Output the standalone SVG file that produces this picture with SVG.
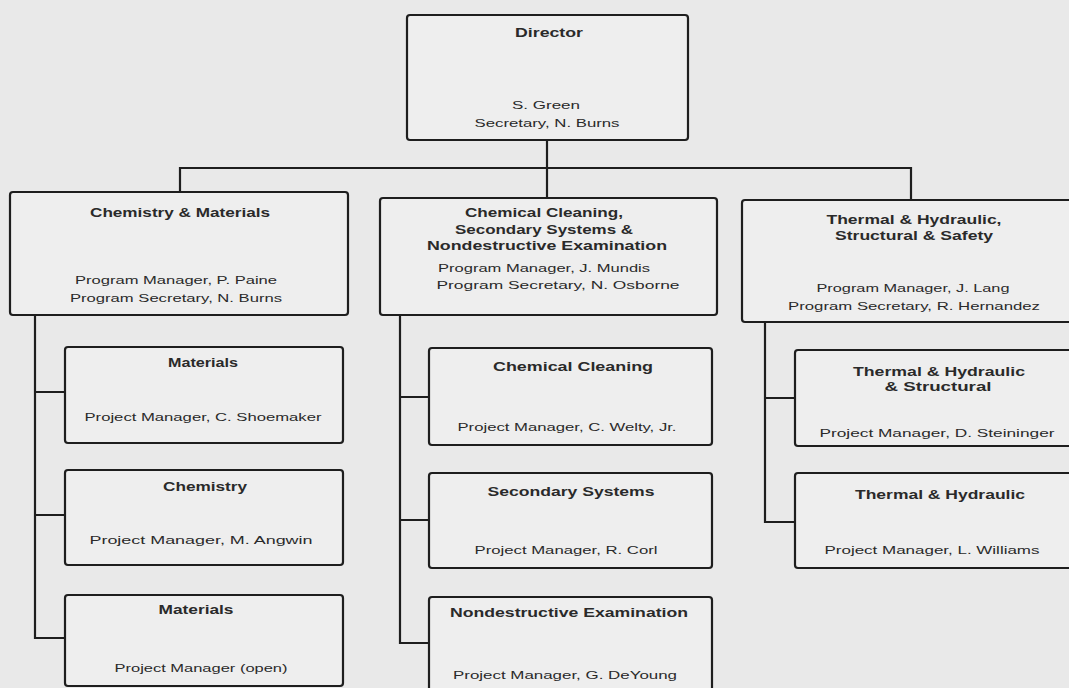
<svg xmlns="http://www.w3.org/2000/svg" width="1069" height="688" viewBox="0 0 1069 688">
<style>
.bg{fill:#e9e9e9}
.box{fill:#eeeeee;stroke:#1e1e1e;stroke-width:2.2}
.ln{fill:none;stroke:#1e1e1e;stroke-width:2.2}
text{font-family:"Liberation Sans",Arial,sans-serif;fill:#2a2a2a;text-anchor:middle}
.t{font-size:12px;font-weight:bold}
.n{font-size:11px}
</style>
<rect class="bg" x="0" y="0" width="1069" height="688"/>
<g id="connectors">
<path class="ln" d="M547,140 V198"/>
<path class="ln" d="M180,192 V168 H911 V200"/>
<path class="ln" d="M35,315 V638 H65 M35,392 H65 M35,515 H65"/>
<path class="ln" d="M400,315 V643 H429 M400,397 H429 M400,520 H429"/>
<path class="ln" d="M765,322 V522 H795 M765,398 H795"/>
</g>
<g id="director">
<rect class="box" x="407" y="15" width="281" height="125" rx="3"/>
<text class="t" x="549" y="37" textLength="68" lengthAdjust="spacingAndGlyphs">Director</text>
<text class="n" x="546" y="109" textLength="68" lengthAdjust="spacingAndGlyphs">S. Green</text>
<text class="n" x="547" y="127" textLength="145" lengthAdjust="spacingAndGlyphs">Secretary, N. Burns</text>
</g>
<g id="chem-materials">
<rect class="box" x="10" y="192" width="338" height="123" rx="3"/>
<text class="t" x="180" y="217" textLength="180" lengthAdjust="spacingAndGlyphs">Chemistry &amp; Materials</text>
<text class="n" x="176" y="284" textLength="202" lengthAdjust="spacingAndGlyphs">Program Manager, P. Paine</text>
<text class="n" x="176" y="302" textLength="212" lengthAdjust="spacingAndGlyphs">Program Secretary, N. Burns</text>
</g>
<g id="chem-cleaning-group">
<rect class="box" x="380" y="198" width="337" height="117" rx="3"/>
<text class="t" x="544" y="217" textLength="158" lengthAdjust="spacingAndGlyphs">Chemical Cleaning,</text>
<text class="t" x="544" y="234" textLength="178" lengthAdjust="spacingAndGlyphs">Secondary Systems &amp;</text>
<text class="t" x="547" y="250" textLength="240" lengthAdjust="spacingAndGlyphs">Nondestructive Examination</text>
<text class="n" x="544" y="272" textLength="212" lengthAdjust="spacingAndGlyphs">Program Manager, J. Mundis</text>
<text class="n" x="558" y="289" textLength="243" lengthAdjust="spacingAndGlyphs">Program Secretary, N. Osborne</text>
</g>
<g id="thermal-group">
<rect class="box" x="742" y="200" width="342" height="122" rx="3"/>
<text class="t" x="914" y="224" textLength="175" lengthAdjust="spacingAndGlyphs">Thermal &amp; Hydraulic,</text>
<text class="t" x="914" y="240" textLength="158" lengthAdjust="spacingAndGlyphs">Structural &amp; Safety</text>
<text class="n" x="913" y="292" textLength="193" lengthAdjust="spacingAndGlyphs">Program Manager, J. Lang</text>
<text class="n" x="914" y="310" textLength="252" lengthAdjust="spacingAndGlyphs">Program Secretary, R. Hernandez</text>
</g>
<g id="materials-1">
<rect class="box" x="65" y="347" width="278" height="96" rx="3"/>
<text class="t" x="203" y="367" textLength="70" lengthAdjust="spacingAndGlyphs">Materials</text>
<text class="n" x="203" y="421" textLength="237" lengthAdjust="spacingAndGlyphs">Project Manager, C. Shoemaker</text>
</g>
<g id="chemistry">
<rect class="box" x="65" y="470" width="278" height="95" rx="3"/>
<text class="t" x="205" y="491" textLength="84" lengthAdjust="spacingAndGlyphs">Chemistry</text>
<text class="n" x="201" y="544" textLength="223" lengthAdjust="spacingAndGlyphs">Project Manager, M. Angwin</text>
</g>
<g id="materials-2">
<rect class="box" x="65" y="595" width="278" height="91" rx="3"/>
<text class="t" x="196" y="614" textLength="75" lengthAdjust="spacingAndGlyphs">Materials</text>
<text class="n" x="201" y="672" textLength="173" lengthAdjust="spacingAndGlyphs">Project Manager (open)</text>
</g>
<g id="chemical-cleaning">
<rect class="box" x="429" y="348" width="283" height="97" rx="3"/>
<text class="t" x="573" y="371" textLength="160" lengthAdjust="spacingAndGlyphs">Chemical Cleaning</text>
<text class="n" x="567" y="431" textLength="219" lengthAdjust="spacingAndGlyphs">Project Manager, C. Welty, Jr.</text>
</g>
<g id="secondary-systems">
<rect class="box" x="429" y="473" width="283" height="95" rx="3"/>
<text class="t" x="571" y="496" textLength="167" lengthAdjust="spacingAndGlyphs">Secondary Systems</text>
<text class="n" x="566" y="554" textLength="183" lengthAdjust="spacingAndGlyphs">Project Manager, R. Corl</text>
</g>
<g id="nde">
<rect class="box" x="429" y="597" width="283" height="100" rx="3"/>
<text class="t" x="569" y="617" textLength="238" lengthAdjust="spacingAndGlyphs">Nondestructive Examination</text>
<text class="n" x="565" y="679" textLength="224" lengthAdjust="spacingAndGlyphs">Project Manager, G. DeYoung</text>
</g>
<g id="thermal-structural">
<rect class="box" x="795" y="350" width="285" height="96" rx="3"/>
<text class="t" x="939" y="376" textLength="172" lengthAdjust="spacingAndGlyphs">Thermal &amp; Hydraulic</text>
<text class="t" x="938" y="391" textLength="107" lengthAdjust="spacingAndGlyphs">&amp; Structural</text>
<text class="n" x="937" y="437" textLength="235" lengthAdjust="spacingAndGlyphs">Project Manager, D. Steininger</text>
</g>
<g id="thermal-hydraulic">
<rect class="box" x="795" y="473" width="285" height="95" rx="3"/>
<text class="t" x="940" y="499" textLength="170" lengthAdjust="spacingAndGlyphs">Thermal &amp; Hydraulic</text>
<text class="n" x="932" y="554" textLength="215" lengthAdjust="spacingAndGlyphs">Project Manager, L. Williams</text>
</g>
</svg>
